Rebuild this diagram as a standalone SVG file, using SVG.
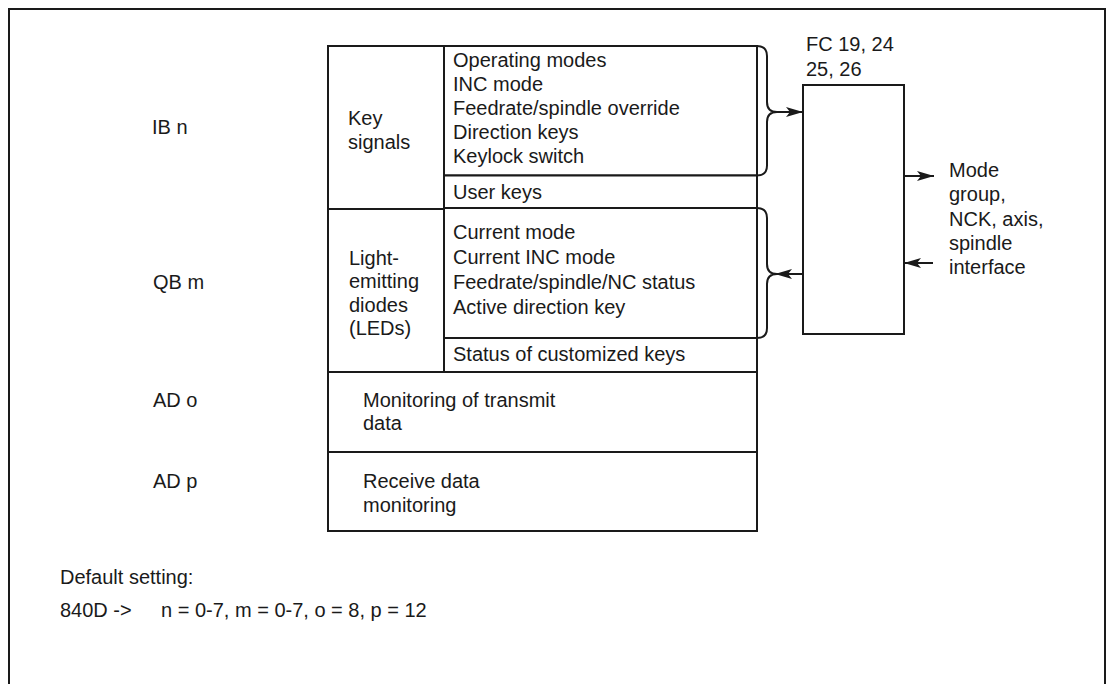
<svg xmlns="http://www.w3.org/2000/svg" width="1111" height="684" viewBox="0 0 1111 684">
<defs>
<marker id="ah" markerUnits="userSpaceOnUse" markerWidth="18" markerHeight="12" refX="17" refY="6" orient="auto">
<path d="M0,1 L17,6 L0,11 L4,6 z" fill="#1a1a1a"/>
</marker>
<style>
.ln{fill:none;stroke:#1a1a1a;stroke-width:2}
.bx{fill:#fff;stroke:#1a1a1a;stroke-width:2}
.con{fill:none;stroke:#1a1a1a;stroke-width:2}
text{font-family:"Liberation Sans",Arial,sans-serif;font-size:20px;fill:#1a1a1a}
</style>
</defs>
<rect width="1111" height="684" fill="#fff"/>
<path class="ln" d="M9,684 V9 H1105 V684"/>

<g id="key-signals">
<rect class="bx" x="328" y="46" width="116" height="163"/>
<text x="348" y="125">Key</text>
<text x="348" y="149">signals</text>
</g>
<g id="key-list">
<rect class="bx" x="444" y="46" width="313" height="129.5"/>
<text x="453" y="67">Operating modes</text>
<text x="453" y="91">INC mode</text>
<text x="453" y="115">Feedrate/spindle override</text>
<text x="453" y="139">Direction keys</text>
<text x="453" y="163">Keylock switch</text>
</g>
<g id="user-keys">
<rect class="bx" x="444" y="175.5" width="313" height="32.5"/>
<text x="453" y="199">User keys</text>
</g>
<g id="leds">
<rect class="bx" x="328" y="209" width="116" height="163"/>
<text x="349" y="265">Light-</text>
<text x="349" y="288">emitting</text>
<text x="349" y="312">diodes</text>
<text x="349" y="335">(LEDs)</text>
</g>
<g id="led-list">
<rect class="bx" x="444" y="208" width="313" height="130"/>
<text x="453" y="239">Current mode</text>
<text x="453" y="264">Current INC mode</text>
<text x="453" y="289">Feedrate/spindle/NC status</text>
<text x="453" y="314">Active direction key</text>
</g>
<g id="status-keys">
<rect class="bx" x="444" y="338" width="313" height="34"/>
<text x="453" y="361">Status of customized keys</text>
</g>
<g id="ad-o-box">
<rect class="bx" x="328" y="372" width="429" height="80"/>
<text x="363" y="407">Monitoring of transmit</text>
<text x="363" y="430">data</text>
</g>
<g id="ad-p-box">
<rect class="bx" x="328" y="452" width="429" height="79"/>
<text x="363" y="488">Receive data</text>
<text x="363" y="512">monitoring</text>
</g>
<g id="fc-box">
<rect class="bx" x="803" y="85" width="101" height="249"/>
<text x="806" y="51">FC 19, 24</text>
<text x="806" y="76">25, 26</text>
</g>
<g id="labels">
<text x="152" y="134">IB n</text>
<text x="153" y="289">QB m</text>
<text x="153" y="407">AD o</text>
<text x="153" y="488">AD p</text>
</g>
<g id="interface">
<text x="949" y="177">Mode</text>
<text x="949" y="201">group,</text>
<text x="949" y="226">NCK, axis,</text>
<text x="949" y="250">spindle</text>
<text x="949" y="274">interface</text>
</g>
<g id="connectors">
<path class="con" d="M757,46 Q767,46 767,56 V102 Q767,112 777,112 Q767,112 767,122 V165.5 Q767,175.5 757,175.5"/>
<path class="con" d="M757,208 Q767,208 767,218 V264 Q767,274 777,274 Q767,274 767,284 V328 Q767,338 757,338"/>
<line class="con" x1="777" y1="112" x2="803" y2="112" marker-end="url(#ah)"/>
<line class="con" x1="803" y1="274" x2="775" y2="274" marker-end="url(#ah)"/>
<line class="con" x1="904" y1="176" x2="934" y2="176" marker-end="url(#ah)"/>
<line class="con" x1="933" y1="263" x2="904" y2="263" marker-end="url(#ah)"/>
</g>
<g id="footer">
<text x="60" y="584">Default setting:</text>
<text x="60" y="617">840D -&gt;</text>
<text x="161" y="617">n = 0-7, m = 0-7, o = 8, p = 12</text>
</g>
</svg>
